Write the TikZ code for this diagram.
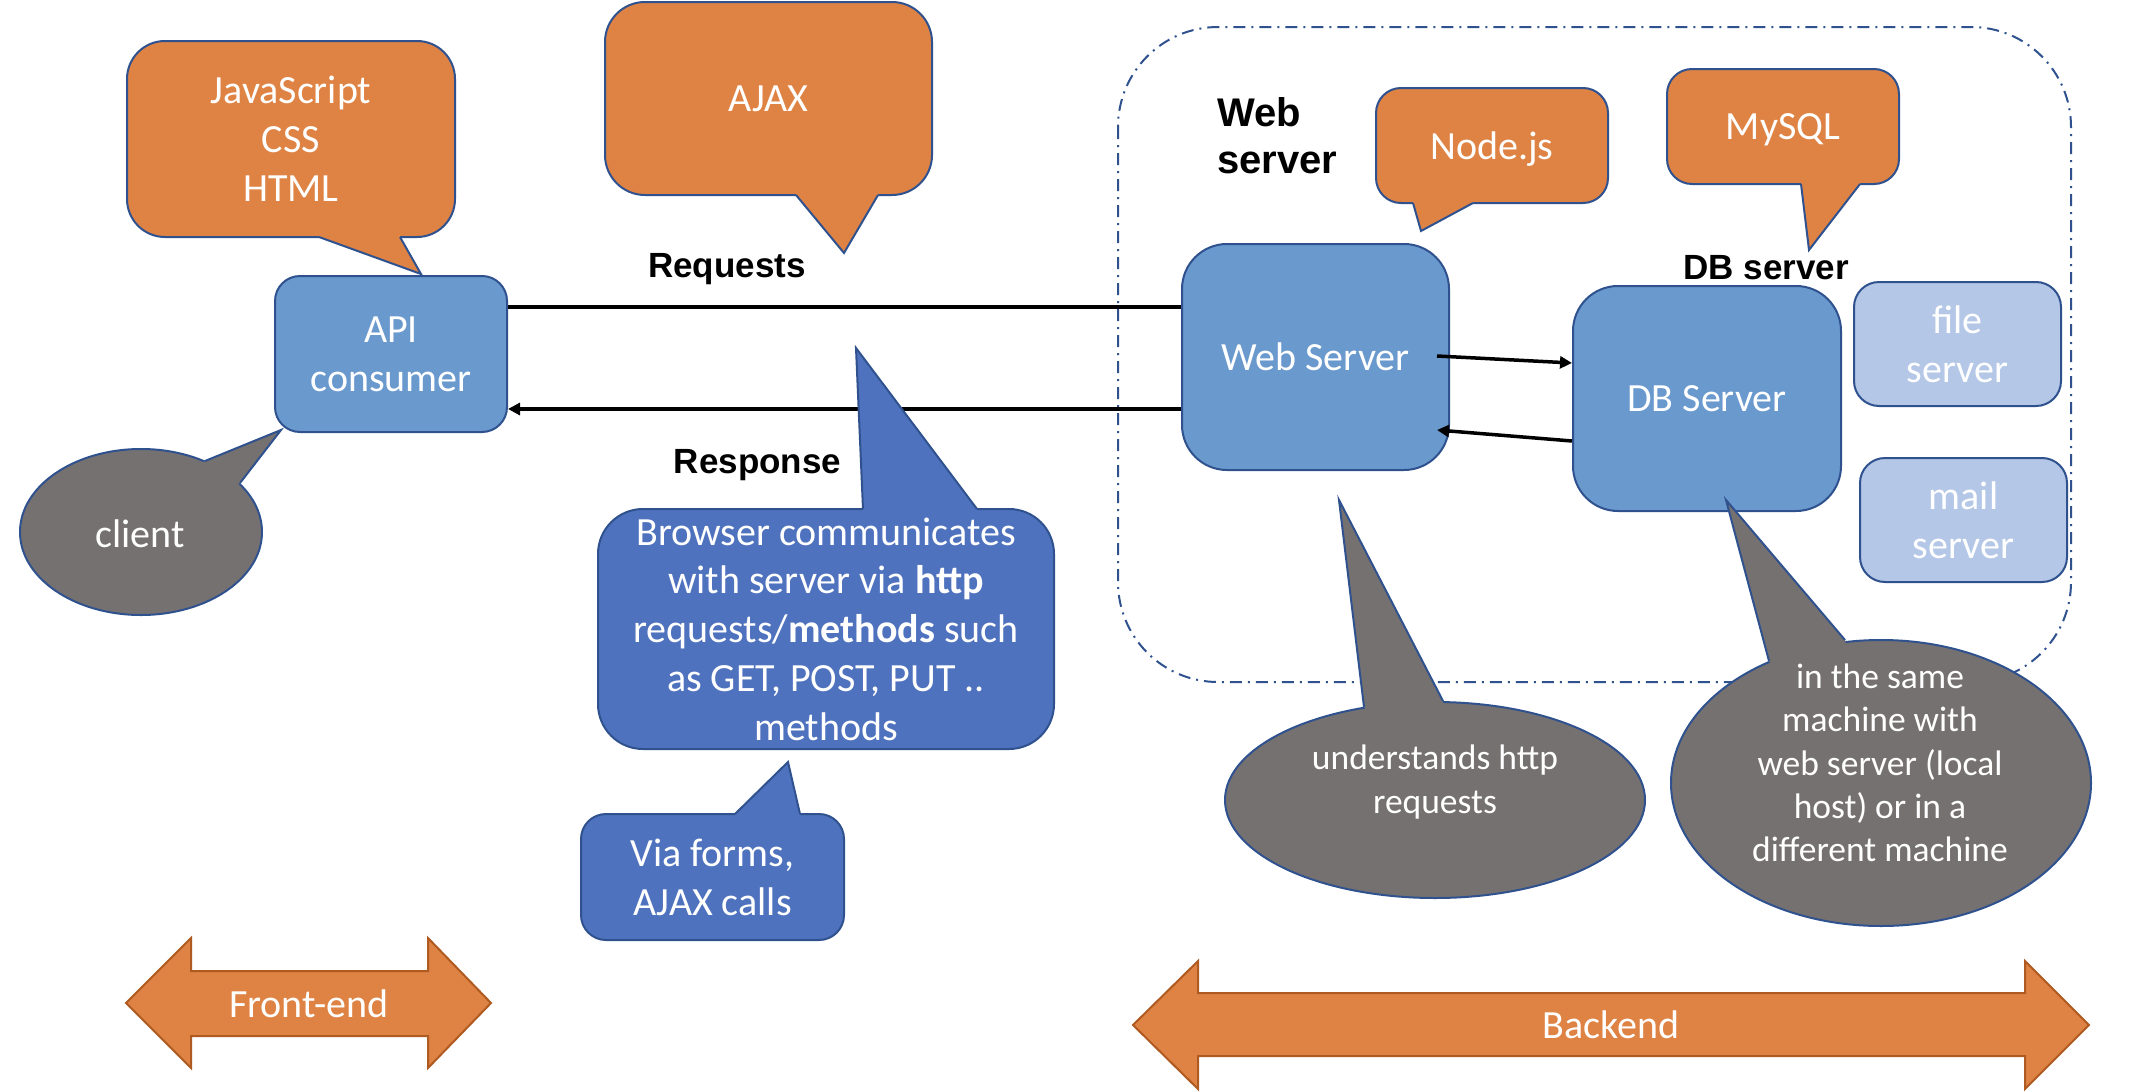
\documentclass[tikz,border=0pt]{standalone}
\usepackage{fontspec}
\setmainfont{Carlito}
\newfontfamily\arialfont{Liberation Sans}
\usetikzlibrary{shapes.geometric,arrows.meta}
\definecolor{orangefill}{RGB}{223,131,69}
\definecolor{orangeedge}{RGB}{174,90,33}
\definecolor{boxblue}{RGB}{106,153,206}
\definecolor{calloutblue}{RGB}{79,114,190}
\definecolor{grayfill}{RGB}{118,113,113}
\definecolor{lightblue}{RGB}{180,199,231}
\definecolor{edgeblue}{RGB}{47,82,143}
\begin{document}
\begin{tikzpicture}[x=1pt,y=-1pt,
  edge/.style={draw=edgeblue,line width=2pt,line join=miter},
  bigtext/.style={text=white,font=\fontsize{40}{48.8}\selectfont,align=center},
  smalltext/.style={text=white,font=\fontsize{35.5}{43.3}\selectfont,align=center},
  boldlabel/.style={text=black,font=\arialfont\bfseries\fontsize{35}{40}\selectfont},
  callbox/.style={edge,bigtext,inner sep=0pt},
  orangebox/.style={callbox,fill=orangefill},
  bluebox/.style={callbox,fill=boxblue},
  lightbox/.style={callbox,fill=lightblue},
  darkbox/.style={callbox,fill=calloutblue},
  grayell/.style={edge,fill=grayfill,ellipse,inner sep=0pt},
  flowline/.style={draw=black,line width=3.5pt},
  headtip/.style={-{Triangle[length=12pt,width=12pt]}},
  bigarrow/.style={fill=orangefill,draw=orangeedge,line width=2pt,line join=miter},
  backline/.style={draw=edgeblue,line width=2pt,dash pattern=on 12pt off 6pt on 2pt off 6pt},
]
\useasboundingbox (0,0) rectangle (2134,1092);
\fill[white] (0,0) rectangle (2134,1092);

% backend group frame
\draw[backline,rounded corners=100pt] (1118,27) rectangle (2071,682);

% boxes
\node[bluebox,rounded corners=25pt,minimum width=232pt,minimum height=156pt] (api) at (391,354) {API\\consumer};
\node[bluebox,rounded corners=45pt,minimum width=267pt,minimum height=226pt] (web) at (1315.5,357) {Web Server};
\node[bluebox,rounded corners=45pt,minimum width=268pt,minimum height=225pt] (db) at (1707,398.5) {DB Server};
\node[lightbox,rounded corners=25pt,minimum width=207pt,minimum height=124pt] (file) at (1957.5,344) {file\\server};
\node[lightbox,rounded corners=25pt,minimum width=207pt,minimum height=124pt] (mail) at (1963.5,520) {mail\\server};

% connectors
\coordinate (reqy) at (0,307);
\coordinate (respy) at (0,409);
\draw[flowline] (api.east |- reqy) -- (web.west |- reqy);
\draw[flowline,headtip] (web.west |- respy) -- (api.east |- respy);
\draw[flowline,headtip] ([xshift=-13pt,yshift=1pt]web.east) -- ([yshift=35.5pt]db.west);
\draw[flowline,headtip] ([yshift=-42.5pt]db.west) -- ([xshift=-13pt,yshift=-73pt]web.east);

% orange callouts
\node[orangebox,rounded corners=38pt,minimum width=328pt,minimum height=196pt] (js) at (291,139) {JavaScript\\CSS\\HTML};
\fill[orangefill] (319,233) -- (319,237) -- (421,274) -- (400,237) -- (400,233) -- cycle;
\draw[edge] (319,237) -- (421,274) -- (400,237);

\node[orangebox,rounded corners=40pt,minimum width=327pt,minimum height=193pt] (ajax) at (768.5,98.5) {AJAX};
\fill[orangefill] (796,191) -- (796,195) -- (844,253) -- (878,195) -- (878,191) -- cycle;
\draw[edge] (796,195) -- (844,253) -- (878,195);

\node[orangebox,rounded corners=25pt,minimum width=232pt,minimum height=115pt,text depth=0pt] (nodejs) at (1492,145.5) {Node.js};
\fill[orangefill] (1413,199) -- (1413,203) -- (1421,231) -- (1473,203) -- (1473,199) -- cycle;
\draw[edge] (1413,203) -- (1421,231) -- (1473,203);

\node[orangebox,rounded corners=25pt,minimum width=232pt,minimum height=115pt,text depth=0pt] (mysql) at (1783,126.5) {MySQL};
\fill[orangefill] (1801,180) -- (1801,184) -- (1809,250) -- (1860,184) -- (1860,180) -- cycle;
\draw[edge] (1801,184) -- (1809,250) -- (1860,184);

% dark blue callouts
\node[darkbox,rounded corners=45pt,minimum width=456pt,minimum height=240pt] (browser) at (826,629) {Browser communicates\\with server via \textbf{http}\\requests/\textbf{methods} such\\as GET, POST, PUT ..\\methods};
\fill[calloutblue] (863,513) -- (863,509) -- (856,348) -- (977,509) -- (977,513) -- cycle;
\draw[edge] (863,509) -- (856,348) -- (977,509);

\node[darkbox,rounded corners=25pt,minimum width=263pt,minimum height=126pt] (via) at (712.5,877) {Via forms,\\AJAX calls};
\fill[calloutblue] (735,818) -- (735,814) -- (788,762) -- (800,814) -- (800,818) -- cycle;
\draw[edge] (735,814) -- (788,762) -- (800,814);

% gray callouts
\node[grayell,minimum width=242pt,minimum height=166pt] (clientell) at (141,532) {};
\fill[grayfill] (199.6,466.9) -- (205,461) -- (281,430) -- (240,483) -- (232.8,486.6) -- cycle;
\draw[edge] (205,461) -- (281,430) -- (240,483);
\node[bigtext] (client) at (140,534) {client};

\node[grayell,minimum width=420pt,minimum height=196pt] (undell) at (1435,800) {};
\fill[grayfill] (1369,713) -- (1364,707) -- (1339,500) -- (1443,701) -- (1442,709) -- cycle;
\draw[edge] (1364,707) -- (1339,500) -- (1443,701);
\node[smalltext] (und) at (1435,782) {understands http\\requests};

\node[grayell,minimum width=420pt,minimum height=286pt] (sameell) at (1881,783) {};
\fill[grayfill] (1774,667) -- (1769,661) -- (1726,500) -- (1845,640) -- (1847,648) -- cycle;
\draw[edge] (1769,661) -- (1726,500) -- (1845,640);
\node[smalltext] (same) at (1880,763) {in the same\\machine with\\web server (local\\host) or in a\\different machine};

% bold labels
\node[boldlabel,anchor=base] (reqlbl) at (727,277) {Requests};
\node[boldlabel,anchor=base] (resplbl) at (757.5,473) {Response};
\node[boldlabel,anchor=base] (dblbl) at (1766,279) {DB server};
\node[boldlabel,font=\arialfont\bfseries\fontsize{40}{47}\selectfont,align=left,anchor=west,inner sep=0pt] (weblbl) at (1217,136) {Web\\server};

% front-end / backend arrows
\draw[bigarrow] (126,1003) -- (191,938) -- (191,971) -- (428,971) -- (428,938) -- (491,1003) -- (428,1068) -- (428,1036) -- (191,1036) -- (191,1068) -- cycle;
\node[bigtext] (front) at (309,1004) {Front-end};
\draw[bigarrow] (1133,1025) -- (1198,961) -- (1198,993) -- (2025,993) -- (2025,961) -- (2089,1025) -- (2025,1089) -- (2025,1056) -- (1198,1056) -- (1198,1089) -- cycle;
\node[bigtext] (back) at (1611,1025) {Backend};
\end{tikzpicture}
\end{document}
